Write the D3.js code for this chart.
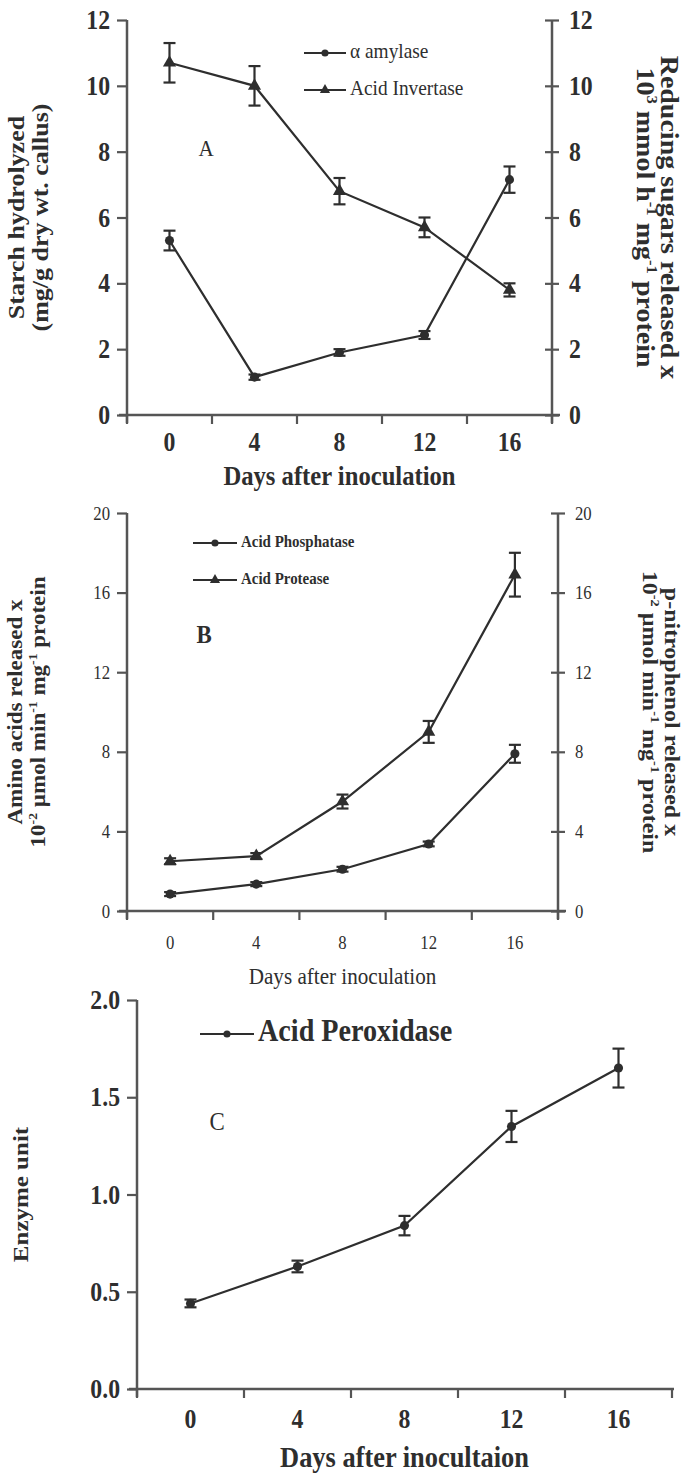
<!DOCTYPE html>
<html>
<head>
<meta charset="utf-8">
<script src="https://cdn.jsdelivr.net/npm/d3@7"></script>
<style>
  body { margin: 0; background: #fff; }
  svg { display: block; }
  text { font-family: "Liberation Serif", "DejaVu Serif", serif; fill: #2e2e2e; }
</style>
</head>
<body>
<svg id="chart" width="683" height="1473"></svg>
<script>
// x categories
const days = [0, 4, 8, 12, 16];

// panel A
const amylase = [5.3, 1.15, 1.9, 2.43, 7.15];
const amylaseErr = [0.3, 0.08, 0.1, 0.12, 0.4];
const invertase = [10.7, 10.0, 6.8, 5.7, 3.8];
const invertaseErr = [0.6, 0.6, 0.4, 0.3, 0.2];
const ticksA = [0, 2, 4, 6, 8, 10, 12];

// panel B
const phosphatase = [0.85, 1.35, 2.1, 3.37, 7.9];
const phosphataseErr = [0.1, 0.1, 0.12, 0.12, 0.45];
const protease = [2.5, 2.76, 5.5, 9.0, 16.9];
const proteaseErr = [0.15, 0.15, 0.35, 0.55, 1.1];
const ticksB = [0, 4, 8, 12, 16, 20];

// panel C
const peroxidase = [0.44, 0.63, 0.84, 1.35, 1.65];
const peroxidaseErr = [0.02, 0.03, 0.05, 0.08, 0.1];
const ticksC = [0, 0.5, 1.0, 1.5, 2.0];

const ink = "#2e2e2e";
const axisInk = "#555";
const K = 0.88; // the scan is squeezed sideways, so text is drawn a bit narrow
const svg = d3.select("#chart");

// text made of segments, some of them superscript
function richText(g, segs, size) {
    const t = g.append("text").attr("font-size", size);
    let up = false;
    segs.forEach(s => {
        const sup = s[1] === true;
        let dy = 0;
        if (sup && !up) dy = -size * 0.4;
        if (!sup && up) dy = size * 0.4;
        t.append("tspan")
            .attr("dy", dy)
            .attr("font-size", sup ? size * 0.6 : size)
            .text(s[0]);
        up = sup;
    });
    return t;
}

// horizontal label, narrowed
function hText(g, x, y, str, size, weight, anchor) {
    return g.append("text")
        .attr("transform", `translate(${x},${y}) scale(${K},1)`)
        .attr("text-anchor", anchor || "middle").attr("dominant-baseline", "middle")
        .attr("font-size", size).attr("font-weight", weight).text(str);
}

function drawPanel(p) {
    const g = svg.append("g");
    const x = d3.scaleBand().domain(days).range([p.left, p.right]);
    const y = d3.scaleLinear().domain(p.domain).range([p.bottom, p.top]);
    const cx = d => x(d) + x.bandwidth() / 2;

    // left axis
    const ya = g.append("g").attr("transform", `translate(${p.left},0)`)
        .call(d3.axisLeft(y).tickValues(p.ticks).tickSize(10).tickPadding(7).tickFormat(p.fmt));
    ya.select(".domain").remove();
    ya.selectAll("line").attr("stroke", axisInk).attr("stroke-width", 2.2);
    ya.selectAll("text").attr("font-size", p.tickSize).attr("font-weight", p.tickWeight)
        .attr("fill", ink).style("font-family", "Liberation Serif")
        .attr("x", -17 / K).attr("transform", `scale(${K},1)`);
    g.append("line").attr("x1", p.left).attr("x2", p.left)
        .attr("y1", y(p.domain[1])).attr("y2", p.bottom + 8)
        .attr("stroke", axisInk).attr("stroke-width", 2.5);

    // right axis
    if (p.rightAxis) {
        const yr = g.append("g").attr("transform", `translate(${p.right},0)`)
            .call(d3.axisRight(y).tickValues(p.ticks).tickSize(7).tickPadding(10));
        yr.select(".domain").remove();
        yr.selectAll("line").attr("x1", -7).attr("stroke", axisInk).attr("stroke-width", 2.2);
        yr.selectAll("text").attr("font-size", p.tickSize).attr("font-weight", p.tickWeight)
            .attr("fill", ink).style("font-family", "Liberation Serif")
            .attr("x", 17 / K).attr("transform", `scale(${K},1)`);
        g.append("line").attr("x1", p.right).attr("x2", p.right)
            .attr("y1", y(p.domain[1])).attr("y2", p.bottom + 8)
            .attr("stroke", axisInk).attr("stroke-width", 2.5);
    }

    // x axis, ticks on band edges, labels in band centers
    g.append("line").attr("x1", p.left - 8).attr("x2", p.right + (p.rightAxis ? 8 : 2))
        .attr("y1", p.bottom).attr("y2", p.bottom)
        .attr("stroke", axisInk).attr("stroke-width", 2.5);
    const edges = days.map(d => x(d)).concat([p.right]);
    g.selectAll(".xtick").data(edges).join("line")
        .attr("x1", d => d).attr("x2", d => d)
        .attr("y1", p.bottom).attr("y2", p.bottom + 9)
        .attr("stroke", axisInk).attr("stroke-width", 2.2);
    days.forEach(d => hText(g, cx(d), p.bottom + p.xLabGap, d, p.tickSize, p.tickWeight));
    hText(g, (p.left + p.right) / 2, p.bottom + p.xTitleGap, p.xTitle, p.xTitleSize, p.xTitleWeight);

    // y titles
    const mid = (p.top + p.bottom) / 2;
    p.leftTitle.forEach((segs, i) => {
        richText(g, segs, p.yTitleSize)
            .attr("font-weight", "bold").attr("text-anchor", "middle")
            .attr("transform", `translate(${p.leftTitleX[i]},${mid}) rotate(-90) scale(1,${K})`);
    });
    if (p.rightTitle) {
        p.rightTitle.forEach((segs, i) => {
            richText(g, segs, p.rightTitleSize)
                .attr("font-weight", "bold").attr("text-anchor", "middle")
                .attr("transform", `translate(${p.rightTitleX[i]},${mid}) rotate(90) scale(1,${K})`);
        });
    }

    // series
    const line = d3.line().x((v, i) => cx(days[i])).y(v => y(v));
    p.series.forEach(s => {
        g.append("path").datum(s.values).attr("d", line)
            .attr("fill", "none").attr("stroke", ink).attr("stroke-width", 2.2);
        s.values.forEach((v, i) => {
            const px = cx(days[i]);
            const y1 = y(v + s.err[i]), y2 = y(v - s.err[i]);
            g.append("line").attr("x1", px).attr("x2", px).attr("y1", y1).attr("y2", y2)
                .attr("stroke", ink).attr("stroke-width", 2.2);
            [y1, y2].forEach(yy => g.append("line")
                .attr("x1", px - 6).attr("x2", px + 6).attr("y1", yy).attr("y2", yy)
                .attr("stroke", ink).attr("stroke-width", 2.2));
        });
        g.selectAll(null).data(s.values).join("path")
            .attr("transform", (v, i) => `translate(${cx(days[i])},${y(v)})`)
            .attr("d", d3.symbol().type(s.shape === "tri" ? d3.symbolTriangle : d3.symbolCircle).size(s.shape === "tri" ? 75 : 65))
            .attr("fill", ink);
    });

    // legend
    p.legend.items.forEach((it, i) => {
        const ly = p.legend.y + i * p.legend.step;
        g.append("line").attr("x1", p.legend.x).attr("x2", p.legend.x + p.legend.len)
            .attr("y1", ly).attr("y2", ly).attr("stroke", ink).attr("stroke-width", 2.2);
        g.append("path")
            .attr("transform", `translate(${p.legend.x + p.legend.len / 2},${ly})`)
            .attr("d", d3.symbol().type(it[1] === "tri" ? d3.symbolTriangle : d3.symbolCircle).size(it[1] === "tri" ? 45 : 40))
            .attr("fill", ink);
        hText(g, p.legend.x + p.legend.len + 4, ly, it[0], p.legend.size, p.legend.weight, "start");
    });

    hText(g, p.tag[1], p.tag[2], p.tag[0], p.tag[3], p.tag[4]);
}

drawPanel({
    left: 127, right: 552, top: 20, bottom: 415, domain: [0, 12], ticks: ticksA,
    fmt: d3.format("d"), tickSize: 27, tickWeight: "bold", rightAxis: true,
    xLabGap: 30, xTitleGap: 64, xTitle: "Days after inoculation", xTitleSize: 28, xTitleWeight: "bold",
    yTitleSize: 26, rightTitleSize: 28,
    leftTitle: [[["Starch hydrolyzed"]], [["(mg/g dry wt. callus)"]]], leftTitleX: [24, 48],
    rightTitle: [[["Reducing sugars released x"]],
        [["10"], ["3", true], [" mmol h"], ["-1", true], [" mg"], ["-1", true], [" protein"]]],
    rightTitleX: [661, 637],
    series: [
        { values: amylase, err: amylaseErr, shape: "circ" },
        { values: invertase, err: invertaseErr, shape: "tri" }
    ],
    legend: { x: 304, y: 53, step: 37, len: 42, size: 22, weight: "normal",
        items: [["\u03b1 amylase", "circ"], ["Acid Invertase", "tri"]] },
    tag: ["A", 206, 150, 24, "normal"]
});

drawPanel({
    left: 127, right: 558, top: 513, bottom: 911, domain: [0, 20], ticks: ticksB,
    fmt: d3.format("d"), tickSize: 19, tickWeight: "normal", rightAxis: true,
    xLabGap: 34, xTitleGap: 67, xTitle: "Days after inoculation", xTitleSize: 24, xTitleWeight: "normal",
    yTitleSize: 23, rightTitleSize: 24,
    leftTitle: [[["Amino acids released x"]],
        [["10"], ["-2", true], [" \u00b5mol min"], ["-1", true], [" mg"], ["-1", true], [" protein"]]],
    leftTitleX: [22, 45],
    rightTitle: [[["p-nitrophenol released x"]],
        [["10"], ["-2", true], [" \u00b5mol min"], ["-1", true], [" mg"], ["-1", true], [" protein"]]],
    rightTitleX: [665, 643],
    series: [
        { values: phosphatase, err: phosphataseErr, shape: "circ" },
        { values: protease, err: proteaseErr, shape: "tri" }
    ],
    legend: { x: 193, y: 543, step: 37, len: 44, size: 17, weight: "bold",
        items: [["Acid Phosphatase", "circ"], ["Acid Protease", "tri"]] },
    tag: ["B", 204, 637, 26, "bold"]
});

drawPanel({
    left: 137, right: 672, top: 1000, bottom: 1389, domain: [0, 2], ticks: ticksC,
    fmt: d3.format(".1f"), tickSize: 27, tickWeight: "bold", rightAxis: false,
    xLabGap: 33, xTitleGap: 71, xTitle: "Days after inocultaion", xTitleSize: 30, xTitleWeight: "bold",
    yTitleSize: 25, rightTitleSize: 25,
    leftTitle: [[["Enzyme unit"]]], leftTitleX: [28],
    rightTitle: null,
    series: [{ values: peroxidase, err: peroxidaseErr, shape: "circ" }],
    legend: { x: 200, y: 1034, step: 0, len: 54, size: 32, weight: "bold",
        items: [["Acid Peroxidase", "circ"]] },
    tag: ["C", 217, 1124, 26, "normal"]
});
</script>
</body>
</html>
